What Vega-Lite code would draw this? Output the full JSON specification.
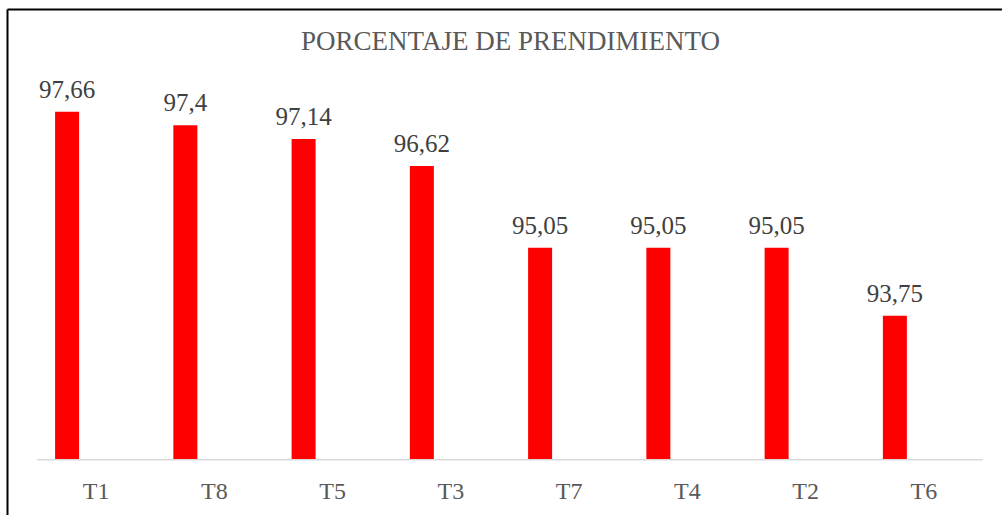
{
  "$schema": "https://vega.github.io/schema/vega-lite/v6.json",
  "width": 995,
  "height": 507,
  "autosize": {"type": "none"},
  "padding": {"left": 7, "top": 9, "right": 0, "bottom": 0},
  "background": "white",
  "config": {
    "view": {"stroke": null},
    "font": "Liberation Serif",
    "locale": {"number": {"decimal": ",", "thousands": ".", "grouping": [3], "currency": ["", " €"]}}
  },
  "title": {
    "text": "PORCENTAJE DE PRENDIMIENTO",
    "font": "Liberation Serif",
    "fontSize": 27,
    "fontWeight": "normal",
    "color": "#595959",
    "anchor": "middle",
    "baseline": "alphabetic",
    "offset": 0,
    "dy": 68,
    "dx": 6
  },
  "data": {
    "values": [
      {"tratamiento": "T1", "pct": 97.66},
      {"tratamiento": "T8", "pct": 97.4},
      {"tratamiento": "T5", "pct": 97.14},
      {"tratamiento": "T3", "pct": 96.62},
      {"tratamiento": "T7", "pct": 95.05},
      {"tratamiento": "T4", "pct": 95.05},
      {"tratamiento": "T2", "pct": 95.05},
      {"tratamiento": "T6", "pct": 93.75}
    ]
  },
  "layer": [
    {
      "mark": {"type": "bar", "color": "#D9D9D9", "width": {"band": 1}},
      "encoding": {
        "x": {
          "field": "tratamiento",
          "type": "nominal",
          "sort": null,
          "scale": {"paddingInner": 0, "paddingOuter": 0.207, "align": 0.612},
          "axis": {
            "orient": "bottom",
            "offset": -57,
            "domain": false,
            "ticks": false,
            "tickSize": 0,
            "grid": false,
            "title": null,
            "labelAngle": 0,
            "labelFont": "Liberation Serif",
            "labelFontSize": 24,
            "labelColor": "#595959",
            "labelBaseline": "alphabetic",
            "labelPadding": 39
          }
        },
        "y": {
          "datum": 91,
          "type": "quantitative",
          "scale": {"domain": [89.907, 99.631], "zero": false, "nice": false},
          "axis": {
            "orient": "left",
            "domain": true,
            "domainColor": "#000000",
            "domainWidth": 2,
            "ticks": false,
            "labels": false,
            "grid": false,
            "title": null
          }
        },
        "y2": {"datum": 90.97}
      }
    },
    {
      "mark": {"type": "bar", "color": "#FF0000", "width": 24, "xOffset": -29},
      "encoding": {
        "x": {"field": "tratamiento", "type": "nominal", "sort": null, "axis": null},
        "y": {"field": "pct", "type": "quantitative"},
        "y2": {"datum": 91}
      }
    },
    {
      "mark": {
        "type": "text",
        "xOffset": -29,
        "dy": -14,
        "baseline": "alphabetic",
        "align": "center",
        "font": "Liberation Serif",
        "fontSize": 25,
        "color": "#404040"
      },
      "encoding": {
        "x": {
          "field": "tratamiento",
          "type": "nominal",
          "sort": null,
          "axis": {
            "orient": "top",
            "domain": true,
            "domainColor": "#000000",
            "domainWidth": 2,
            "ticks": false,
            "labels": false,
            "grid": false,
            "title": null
          }
        },
        "y": {"field": "pct", "type": "quantitative"},
        "text": {"field": "pct", "type": "quantitative", "format": ".2~f"}
      }
    }
  ],
  "resolve": {"axis": {"x": "independent"}}
}
